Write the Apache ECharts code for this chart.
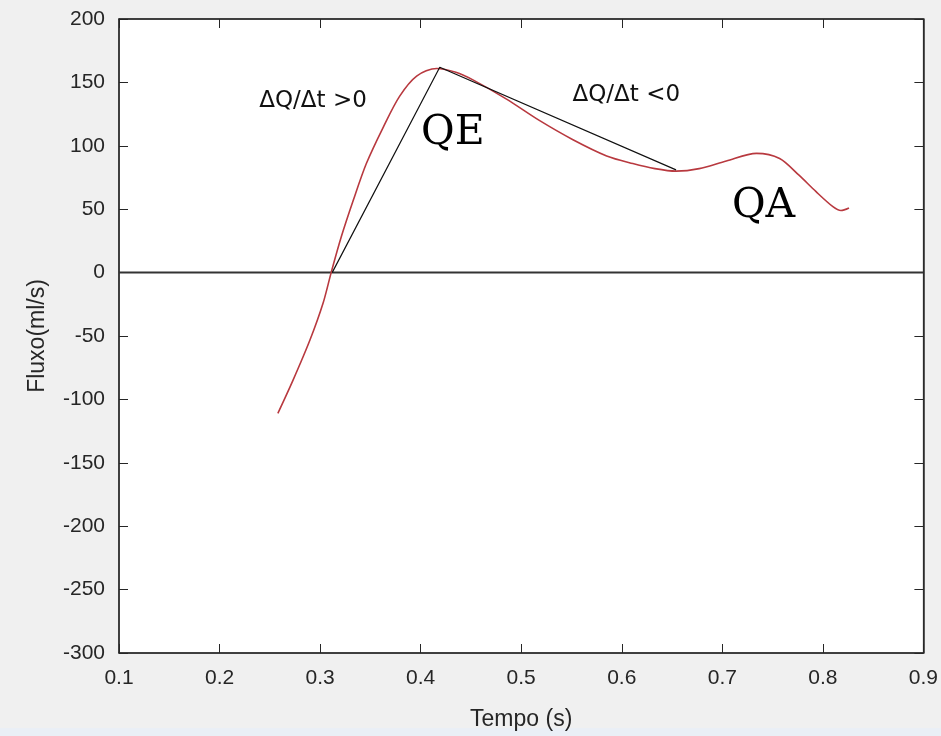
<!DOCTYPE html>
<html>
<head>
<meta charset="utf-8">
<script src="https://cdn.jsdelivr.net/npm/echarts@6/dist/echarts.min.js"></script>
<style>
  html, body { margin: 0; padding: 0; background: #f0f0f0; }
  #chart { width: 941px; height: 736px; }
</style>
</head>
<body>
<div id="chart"></div>
<script>
// curva de fluxo
var timeValues = [0.258, 0.273, 0.290, 0.303, 0.311, 0.321, 0.333, 0.346, 0.363, 0.379, 0.396, 0.416,
                  0.435, 0.452, 0.485, 0.518, 0.551, 0.585, 0.611, 0.633, 0.654, 0.677, 0.704, 0.734,
                  0.757, 0.776, 0.793, 0.810, 0.818, 0.826]
var flowValues = [-111, -85, -53, -24, 0, 28, 57, 86, 115, 139, 155, 161,
                  158, 152, 137, 120, 105, 92, 86, 82, 80, 82, 88, 94,
                  90, 77, 64, 52, 49, 51]

// retas de inclinacao
var slopeTimes = [0.312, 0.419, 0.654]
var slopeValues = [0, 162, 81]

// linha do zero
var zeroTimes = [0.1, 0.9]
var zeroValues = [0, 0]

// textos
var noteTexts = ['ΔQ/Δt >0', 'ΔQ/Δt <0', 'QE', 'QA']
var noteTimes = [0.293, 0.6045, 0.432, 0.741]
var noteValues = [135, 140, 110, 52.5]

function pairs(xs, ys) {
    var out = []
    for (var i = 0; i < xs.length; i++) {
        out.push([xs[i], ys[i]])
    }
    return out
}

var notes = []
for (var i = 0; i < noteTexts.length; i++) {
    var big = noteTexts[i].length == 2
    notes.push({
        value: [noteTimes[i], noteValues[i]],
        name: noteTexts[i],
        label: big ? {fontFamily: 'DejaVu Serif', fontSize: 41, color: '#000'}
                   : {fontFamily: 'DejaVu Sans', fontSize: 23, color: '#111'}
    })
}

var axisColor = '#262626'

var myChart = echarts.init(document.getElementById('chart'))

var option = {
    backgroundColor: '#f0f0f0',
    animation: false,
    graphic: [{
        type: 'rect',
        shape: {x: 0, y: 728, width: 941, height: 8},
        style: {fill: '#eaeff6'},
        silent: true
    }],
    grid: {
        left: 119,
        right: 17,
        top: 19,
        bottom: 83,
        show: true,
        backgroundColor: '#fff',
        borderColor: axisColor,
        borderWidth: 1
    },
    xAxis: [{
        type: 'value',
        min: 0.1,
        max: 0.9,
        interval: 0.1,
        position: 'bottom',
        name: 'Tempo (s)',
        nameLocation: 'middle',
        nameGap: 55,
        nameTextStyle: {fontFamily: 'Liberation Sans', fontSize: 23, color: axisColor},
        axisLine: {show: true, onZero: false, lineStyle: {color: axisColor, width: 1.5}},
        axisTick: {show: true, inside: true, length: 9, lineStyle: {color: axisColor}},
        axisLabel: {
            fontFamily: 'Liberation Sans', fontSize: 21, color: axisColor, margin: 15,
            formatter: function (v) { return v.toFixed(1) }
        },
        splitLine: {show: false}
    }, {
        type: 'value',
        min: 0.1,
        max: 0.9,
        interval: 0.1,
        position: 'top',
        axisLine: {show: true, onZero: false, lineStyle: {color: axisColor, width: 1.5}},
        axisTick: {show: true, inside: true, length: 9, lineStyle: {color: axisColor}},
        axisLabel: {show: false},
        splitLine: {show: false}
    }],
    yAxis: [{
        type: 'value',
        min: -300,
        max: 200,
        interval: 50,
        position: 'left',
        name: 'Fluxo(ml/s)',
        nameLocation: 'middle',
        nameGap: 70,
        nameTextStyle: {fontFamily: 'Liberation Sans', fontSize: 23, color: axisColor},
        axisLine: {show: true, onZero: false, lineStyle: {color: axisColor, width: 1.5}},
        axisTick: {show: true, inside: true, length: 9, lineStyle: {color: axisColor}},
        axisLabel: {fontFamily: 'Liberation Sans', fontSize: 21, color: axisColor, margin: 14},
        splitLine: {show: false}
    }, {
        type: 'value',
        min: -300,
        max: 200,
        interval: 50,
        position: 'right',
        axisLine: {show: true, onZero: false, lineStyle: {color: axisColor, width: 1.5}},
        axisTick: {show: true, inside: true, length: 9, lineStyle: {color: axisColor}},
        axisLabel: {show: false},
        splitLine: {show: false}
    }],
    series: [{
        type: 'line',
        data: pairs(zeroTimes, zeroValues),
        showSymbol: false,
        lineStyle: {color: '#333', width: 2},
        silent: true
    }, {
        type: 'line',
        data: pairs(timeValues, flowValues),
        smooth: 0.3,
        showSymbol: false,
        lineStyle: {color: '#b8393f', width: 1.6},
        z: 3
    }, {
        type: 'line',
        data: pairs(slopeTimes, slopeValues),
        showSymbol: false,
        lineStyle: {color: '#111', width: 1.2},
        z: 4
    }, {
        type: 'scatter',
        data: notes,
        symbolSize: 0,
        itemStyle: {opacity: 1},
        label: {show: true, position: 'inside', formatter: '{b}', textBorderWidth: 0},
        silent: true,
        z: 5
    }]
}

myChart.setOption(option)
</script>
</body>
</html>
